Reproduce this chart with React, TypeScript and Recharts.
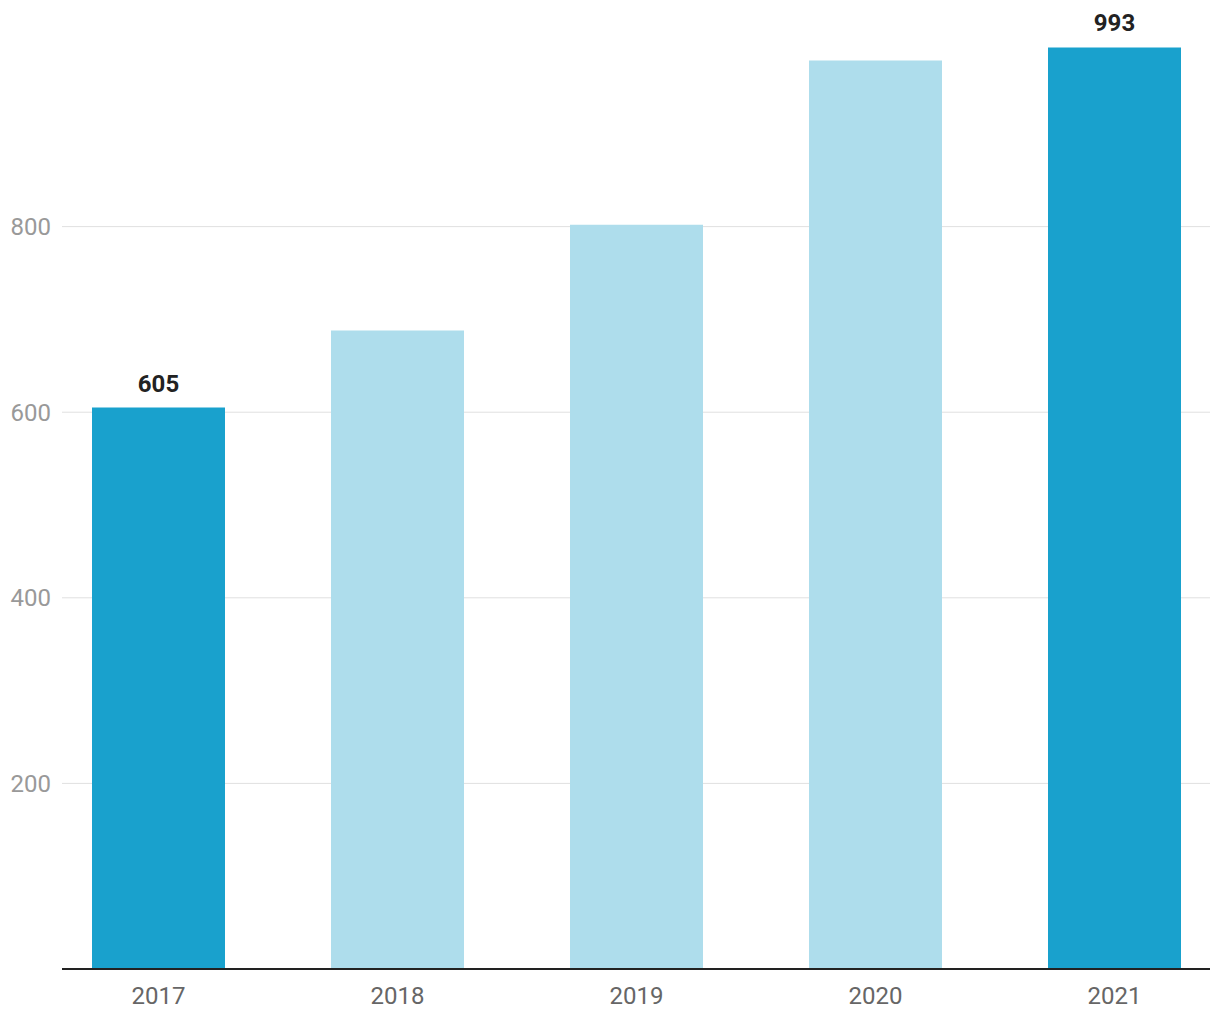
import React from "react";
import { BarChart, Bar, XAxis, YAxis, CartesianGrid, Cell, LabelList } from "recharts";

const years = ["2017", "2018", "2019", "2020", "2021"];
const values = [605, 688, 802, 979, 993];
const highlightedYears = ["2017", "2021"];
const yTicks = [200, 400, 600, 800];

const DARK = "#19a1cd";
const LIGHT = "#aeddec";

const data = years.map((year, i) => ({ year, value: values[i] }));

const App: React.FC = () => {
  return (
    <div style={{ fontFamily: "Roboto, sans-serif" }}>
      <BarChart
        width={1204}
        height={1004}
        data={data}
        margin={{ top: 33, right: 2, bottom: 3, left: 0 }}
      >
        <CartesianGrid vertical={false} stroke="#e0e0e0" horizontalValues={yTicks} />
        <XAxis
          dataKey="year"
          height={40}
          padding={{ left: -23, right: -24 }}
          axisLine={{ stroke: "#222", strokeWidth: 2 }}
          tickLine={false}
          tickSize={6}
          tickMargin={12}
          tick={{ fill: "#666", fontSize: 24, fontFamily: "Roboto" }}
        />
        <YAxis
          width={54}
          domain={[0, 1000]}
          ticks={yTicks}
          axisLine={false}
          tickLine={false}
          tickSize={6}
          tickMargin={5}
          tick={{ fill: "#999", fontSize: 24, fontFamily: "Roboto" }}
        />
        <Bar dataKey="value" barSize={133} isAnimationActive={false}>
          {data.map((d) => (
            <Cell key={d.year} fill={highlightedYears.includes(d.year) ? DARK : LIGHT} />
          ))}
          <LabelList
            dataKey="value"
            position="top"
            content={(props: any) => {
              const { x, y, width, value, index } = props;
              if (!highlightedYears.includes(years[index])) return null;
              return (
                <text
                  x={Number(x) + Number(width) / 2}
                  y={Number(y) - 16}
                  textAnchor="middle"
                  fill="#222"
                  fontSize={24}
                  fontWeight="bold"
                  fontFamily="Roboto"
                >
                  {value}
                </text>
              );
            }}
          />
        </Bar>
      </BarChart>
    </div>
  );
};

export default App;
